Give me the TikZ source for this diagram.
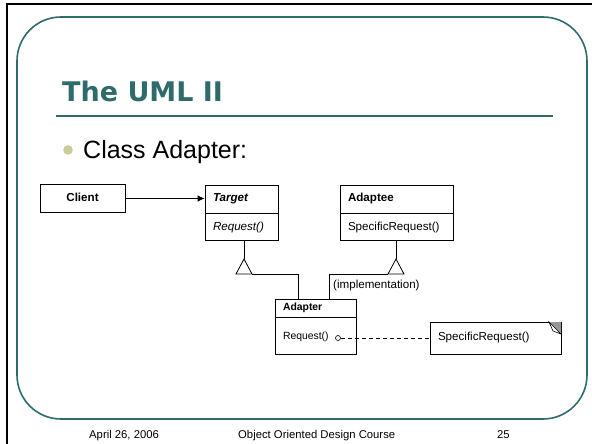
\documentclass[tikz,border=0pt]{standalone}
\usepackage{fontspec}
\setmainfont{Liberation Sans}
\newfontfamily\titlefont{DejaVu Sans}
\usetikzlibrary{arrows.meta,calc}
\definecolor{tealc}{RGB}{47,107,107}
\definecolor{bulc}{RGB}{204,204,153}
\definecolor{foldc}{RGB}{150,150,150}
\begin{document}
\begin{tikzpicture}[x=1pt,y=-1pt,
  diag/.style={font=\fontsize{11.6}{13}\selectfont},
  small/.style={font=\fontsize{10.4}{12}\selectfont},
  umlbox/.style={draw, line width=0.8pt, rectangle, inner xsep=8pt, inner ysep=0pt, text height=8pt, text depth=2.5pt, diag},
  leftbox/.style={umlbox, align=left},
  conn/.style={line width=0.8pt},
  foot/.style={font=\fontsize{11.3}{13}\selectfont, anchor=base west, inner sep=0pt}
]
\useasboundingbox (0,0) rectangle (592,444);
% slide frame
\draw[line width=2pt] (7,444) -- (7,4.5) -- (592,4.5);
\draw[tealc, line width=1.6pt, rounded corners=44] (17,17) rectangle (587,419);
% title
\node[anchor=base west, inner sep=0pt, text=tealc, font=\titlefont\bfseries\fontsize{27}{30}\selectfont] (title) at (62,102) {The UML II};
\draw[tealc, line width=2.5pt] (56,116) -- (553,116);
\fill[bulc] (68,150) circle (4.8);
\node[anchor=base west, inner sep=0pt, font=\fontsize{25}{28}\selectfont] (bullet) at (83,158) {Class Adapter:};
% classes
\node[umlbox, minimum width=85, minimum height=28] (client) at (82.5,198.5) {\textbf{Client}};
\node[leftbox, minimum width=73, minimum height=28, text width=57] (targeth) at (241.5,199) {\textbf{\textit{Target}}};
\node[leftbox, minimum width=73, minimum height=27, text width=57, anchor=north] (targetb) at (targeth.south) {\textit{Request()}};
\node[leftbox, minimum width=113, minimum height=28, text width=97] (adapteeh) at (396.5,199) {\textbf{Adaptee}};
\node[leftbox, minimum width=113, minimum height=27, text width=97, anchor=north] (adapteeb) at (adapteeh.south) {SpecificRequest()};
\node[leftbox, small, minimum width=81, minimum height=18, text width=65] (adapterh) at (315.5,308) {\textbf{Adapter}};
\node[leftbox, small, minimum width=81, minimum height=37, text width=65, anchor=north] (adapterb) at (adapterh.south) {Request()};
\node[leftbox, minimum width=131, minimum height=32, text width=115] (note) at (495.5,338) {SpecificRequest()};
% note dog-ear
\fill[foldc] (549,322) -- (561,322) -- (561,334) -- cycle;
\draw[line width=0.6pt, fill=white] (549,322) -- (561,334) -- (553,331) -- cycle;
% client -> target
\draw[conn, -{Latex[length=7pt,width=6.5pt]}] (client.east) -- (client.east -| targeth.west);
% inheritance Target
\coordinate (tt) at (244,259);
\coordinate (tb) at (298,274);
\draw[conn] (tt |- targetb.south) -- (tt);
\draw[conn] (tt) -- (236,274) -- (252,274) -- cycle;
\draw[conn] (252,274) -- (tb) -- (tb |- adapterh.north);
% inheritance Adaptee
\coordinate (at) at (396,259);
\coordinate (ab) at (329,274);
\draw[conn] (at |- adapteeb.south) -- (at);
\draw[conn] (at) -- (388,274) -- (404,274) -- cycle;
\draw[conn] (388,274) -- (ab) -- (ab |- adapterh.north);
\node[diag, anchor=west, inner sep=0pt] (impl) at (333,285) {(implementation)};
% note link
\node[draw, circle, line width=0.6pt, minimum size=5pt, inner sep=0pt] (dot) at (338,338) {};
\draw[conn, dash pattern=on 4pt off 3pt] (dot.east) -- (note.west);
% footer
\node[foot] (date) at (89,438) {April 26, 2006};
\node[foot] (course) at (238,438) {Object Oriented Design Course};
\node[foot] (page) at (497,438) {25};
\end{tikzpicture}
\end{document}
